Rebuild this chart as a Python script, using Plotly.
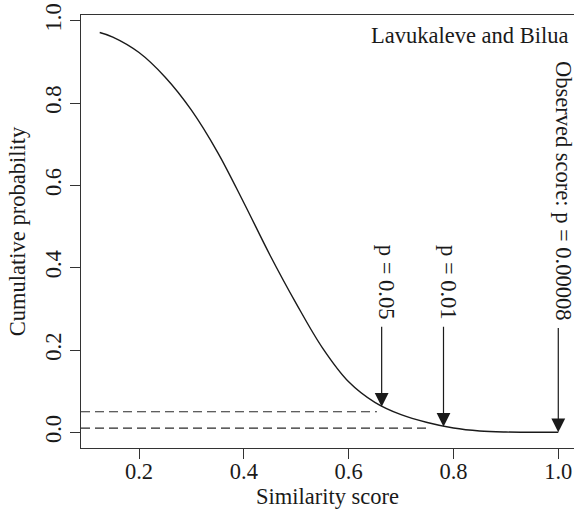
import plotly.graph_objects as go

# ---- data ----
similarity = [0.125, 0.15, 0.2, 0.25, 0.3, 0.35, 0.4, 0.45, 0.5, 0.55,
              0.6, 0.65, 0.7, 0.75, 0.8, 0.85, 0.9, 0.95, 1.0]
cum_prob = [0.9713, 0.9603, 0.9228, 0.8628, 0.7828, 0.6803, 0.5578, 0.4303, 0.3128, 0.2053,
            0.1228, 0.0728, 0.0428, 0.0238, 0.0104, 0.0032, 0.0007, 0.0002, 0.00008]

x_tick_vals = [0.2, 0.4, 0.6, 0.8, 1.0]
x_tick_text = ["0.2", "0.4", "0.6", "0.8", "1.0"]
y_tick_vals = [0.0, 0.2, 0.4, 0.6, 0.8, 1.0]
y_tick_text = ["0.0", "0.2", "0.4", "0.6", "0.8", "1.0"]

threshold_p = [0.05, 0.01]
threshold_end_x = [0.654, 0.755]

arrow_x = [0.663, 0.781, 1.0]
arrow_tip_y = [0.062, 0.0136, 0.00008]
arrow_tail_y = [0.26, 0.26, 0.257]
arrow_labels = ["p = 0.05", "p = 0.01", "Observed score: p = 0.00008"]

panel_label = "Lavukaleve and Bilua"
x_title = "Similarity score"
y_title = "Cumulative probability"

# ---- styling ----
FONT = "Liberation Serif"
FS = 22.5
INK = "#1a1a1a"
X_RANGE = [0.0893, 1.030]
Y_RANGE = [-0.0381, 1.0139]
LABEL_DX = 0.0095

fig = go.Figure()

fig.add_trace(go.Scatter(
    x=similarity, y=cum_prob, mode="lines",
    line=dict(color=INK, width=1.4, shape="spline", smoothing=1.0),
    showlegend=False, hoverinfo="skip"))

for p, xe in zip(threshold_p, threshold_end_x):
    fig.add_trace(go.Scatter(
        x=[X_RANGE[0], xe], y=[p, p], mode="lines",
        line=dict(color="#2a2a2a", width=1.2, dash="9px,5px"),
        showlegend=False, hoverinfo="skip"))

annotations = []
for xa, yt, ytail, lab in zip(arrow_x, arrow_tip_y, arrow_tail_y, arrow_labels):
    annotations.append(dict(
        x=xa, y=yt, ax=xa, ay=ytail, xref="x", yref="y", axref="x", ayref="y",
        text="", showarrow=True, arrowhead=2, arrowsize=2.3, arrowwidth=1.2,
        arrowcolor=INK, standoff=0))
    annotations.append(dict(
        x=xa + LABEL_DX, y=ytail + 0.008, xref="x", yref="y", text=lab, showarrow=False,
        textangle=90, xanchor="center", yanchor="bottom",
        font=dict(family=FONT, size=FS, color=INK)))

annotations.append(dict(
    x=1.0223, y=0.963, xref="x", yref="y", text=panel_label, showarrow=False,
    xanchor="right", yanchor="middle",
    font=dict(family=FONT, size=FS, color=INK)))

fig.update_layout(
    width=574, height=517, autosize=False,
    margin=dict(l=81, r=0, t=15, b=69),
    paper_bgcolor="white", plot_bgcolor="white",
    font=dict(family=FONT, size=FS, color=INK),
    annotations=annotations,
    xaxis=dict(
        range=X_RANGE, tickvals=x_tick_vals, ticktext=x_tick_text,
        ticks="outside", ticklen=10, tickwidth=1.2, tickcolor="#333333",
        showline=True, linecolor="#333333", linewidth=1.4, mirror=True,
        showgrid=False, zeroline=False, ticklabelstandoff=-7,
        tickfont=dict(family=FONT, size=FS, color=INK),
        title=dict(text=x_title, standoff=4,
                   font=dict(family=FONT, size=FS, color=INK))),
    yaxis=dict(
        range=Y_RANGE, tickvals=y_tick_vals, ticktext=y_tick_text,
        ticks="outside", ticklen=10, tickwidth=1.2, tickcolor="#333333",
        showline=True, linecolor="#333333", linewidth=1.4, mirror=False,
        showgrid=False, zeroline=False, tickangle=-90,
        tickfont=dict(family=FONT, size=FS, color=INK),
        title=dict(text=y_title, standoff=8,
                   font=dict(family=FONT, size=FS, color=INK))),
)

fig.write_html("out.html", config={"displayModeBar": False},
               post_script="document.body.style.margin='0';")
